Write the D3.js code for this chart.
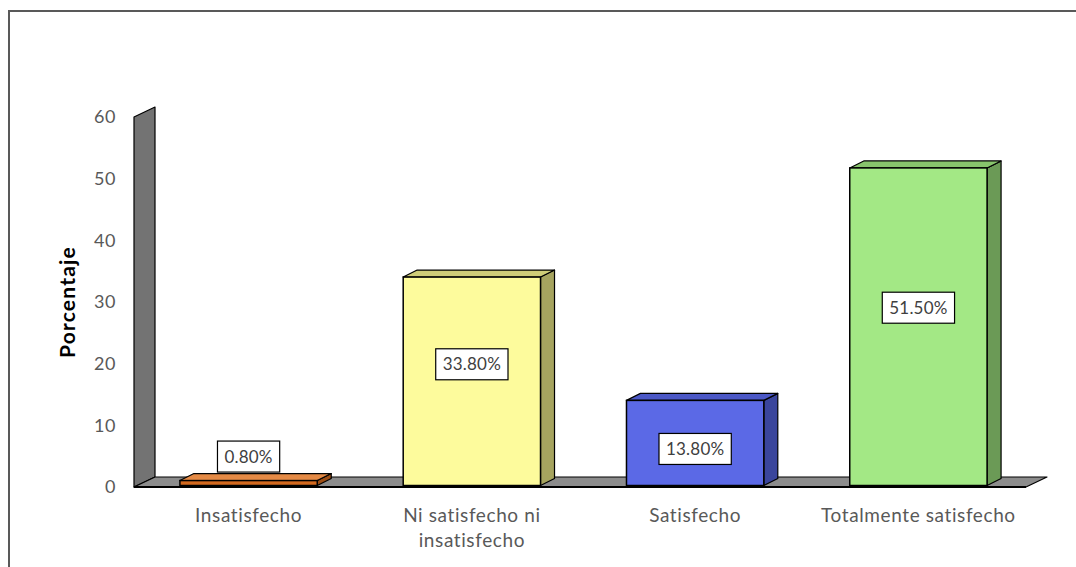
<!DOCTYPE html>
<html>
<head>
<meta charset="utf-8">
<script src="https://cdn.jsdelivr.net/npm/d3@7"></script>
<style>
  html, body { margin: 0; padding: 0; background: #fff; }
  svg { display: block; }
  text { font-family: Lato, "Open Sans", sans-serif; }
</style>
</head>
<body>
<svg id="chart" width="1076" height="567"></svg>
<script>
// Satisfaction survey results (percentage per answer)
const categories = ["Insatisfecho", "Ni satisfecho ni insatisfecho", "Satisfecho", "Totalmente satisfecho"];
const values = [0.8, 33.8, 13.8, 51.5];
const valueLabels = ["0.80%", "33.80%", "13.80%", "51.50%"];
const yTicks = [0, 10, 20, 30, 40, 50, 60];
const yTitle = "Porcentaje";

// Face colours for each column: front, top, side
const frontColors = ["#d2691f", "#fdfb9c", "#5b69e6", "#a3e885"];
const topColors   = ["#e58a45", "#cfcd78", "#4b58c6", "#88c46c"];
const sideColors  = ["#9c4d14", "#a6a45f", "#3a459c", "#6b9a56"];

// Layout
const W = 1076, H = 567;
const plot = { left: 134, right: 1026, top: 117, bottom: 487 };
const wallDepth = { dx: 21, dy: -10 };   // depth of the floor / side wall
const barDepth = { dx: 14, dy: -7 };     // depth of each column
const barInset = { dx: (wallDepth.dx - barDepth.dx) / 2, dy: (wallDepth.dy - barDepth.dy) / 2 };
// vertical nudges for the value labels (px, relative to front-face middle)
const labelNudge = [null, -17, 6, -19];

const svg = d3.select("#chart");

// Chart frame
svg.append("rect")
  .attr("x", 9).attr("y", 11)
  .attr("width", W + 20).attr("height", H + 20)
  .attr("fill", "none").attr("stroke", "#595959").attr("stroke-width", 2);

const x = d3.scaleBand()
  .domain(categories)
  .range([plot.left, plot.right])
  .paddingInner(0.385)
  .paddingOuter(0.19);

const y = d3.scaleLinear()
  .domain([0, 60])
  .range([plot.bottom, plot.top]);

const poly = pts => pts.map(p => p.join(",")).join(" ");

// Side wall
const wx0 = plot.left, wx1 = plot.left + wallDepth.dx;
svg.append("polygon")
  .attr("points", poly([
    [wx0, y(0)], [wx0, y(60)], [wx1, y(60) + wallDepth.dy], [wx1, y(0) + wallDepth.dy]
  ]))
  .attr("fill", "#737373").attr("stroke", "#000").attr("stroke-width", 1.2)
  .attr("stroke-linejoin", "round");

// Floor
svg.append("polygon")
  .attr("points", poly([
    [plot.left, y(0)], [plot.right, y(0)],
    [plot.right + wallDepth.dx, y(0) + wallDepth.dy], [plot.left + wallDepth.dx, y(0) + wallDepth.dy]
  ]))
  .attr("fill", "#8c8c8c").attr("stroke", "#000").attr("stroke-width", 1.2)
  .attr("stroke-linejoin", "round");
svg.append("line")
  .attr("x1", plot.left).attr("x2", plot.right)
  .attr("y1", y(0)).attr("y2", y(0))
  .attr("stroke", "#000").attr("stroke-width", 2);

// Y axis tick labels
const yAxis = d3.axisLeft(y).tickValues(yTicks).tickSize(0).tickPadding(0);
const gy = svg.append("g").attr("transform", `translate(${plot.left - 18},0)`).call(yAxis);
gy.select(".domain").remove();
gy.selectAll("text")
  .attr("fill", "#595959")
  .style("font-size", "18px")
  .style("letter-spacing", "0.5px")
  .style("font-family", "Lato, sans-serif");

// Y axis title
svg.append("text")
  .attr("transform", `translate(75,302) rotate(-90)`)
  .attr("text-anchor", "middle")
  .attr("font-weight", "bold")
  .attr("font-size", 21)
  .attr("letter-spacing", 1.2)
  .attr("fill", "#000")
  .text(yTitle);

// Columns
const bars = svg.append("g").selectAll("g")
  .data(categories.map((c, i) => ({ c, v: values[i], i })))
  .join("g");

bars.each(function (d) {
  const g = d3.select(this);
  const x0 = x(d.c) + barInset.dx;
  const x1 = x0 + x.bandwidth();
  const yb = y(0) + barInset.dy;
  const yt = y(d.v) + barInset.dy;
  const { dx, dy } = barDepth;
  // side
  g.append("polygon")
    .attr("points", poly([[x1, yt], [x1 + dx, yt + dy], [x1 + dx, yb + dy], [x1, yb]]))
    .attr("fill", sideColors[d.i]).attr("stroke", "#000").attr("stroke-width", 1.2)
    .attr("stroke-linejoin", "round");
  // top
  g.append("polygon")
    .attr("points", poly([[x0, yt], [x1, yt], [x1 + dx, yt + dy], [x0 + dx, yt + dy]]))
    .attr("fill", topColors[d.i]).attr("stroke", "#000").attr("stroke-width", 1.2)
    .attr("stroke-linejoin", "round");
  // front
  g.append("rect")
    .attr("x", x0).attr("y", yt)
    .attr("width", x1 - x0).attr("height", yb - yt)
    .attr("fill", frontColors[d.i]).attr("stroke", "#000").attr("stroke-width", 1.5);
});

// Value labels
const labels = svg.append("g").selectAll("g")
  .data(categories.map((c, i) => ({ c, v: values[i], i, t: valueLabels[i] })))
  .join("g")
  .attr("transform", d => {
    const cx = x(d.c) + barInset.dx + x.bandwidth() / 2;
    const yb = y(0) + barInset.dy;
    const yt = y(d.v) + barInset.dy;
    const cy = labelNudge[d.i] === null ? yt - 24 : (yt + yb) / 2 + labelNudge[d.i];
    return `translate(${cx},${cy})`;
  });

labels.append("text")
  .attr("text-anchor", "middle")
  .attr("dy", "0.35em")
  .attr("font-size", 17)
  .attr("letter-spacing", 0.2)
  .attr("fill", "#404040")
  .text(d => d.t);

labels.each(function () {
  const g = d3.select(this);
  const bb = g.select("text").node().getBBox();
  g.insert("rect", "text")
    .attr("x", bb.x - 7).attr("y", -15.5)
    .attr("width", bb.width + 14).attr("height", 31)
    .attr("fill", "#fff").attr("stroke", "#000").attr("stroke-width", 1.2);
});

// Category labels (wrapped)
const catG = svg.append("g");
const catLines = [["Insatisfecho"], ["Ni satisfecho ni", "insatisfecho"], ["Satisfecho"], ["Totalmente satisfecho"]];
categories.forEach((c, i) => {
  const cx = x(c) + x.bandwidth() / 2 + barInset.dx;
  const t = catG.append("text")
    .attr("text-anchor", "middle")
    .attr("font-size", 19)
    .attr("letter-spacing", 0.6)
    .attr("fill", "#595959");
  catLines[i].forEach((line, k) => {
    t.append("tspan").attr("x", cx).attr("y", 522 + k * 25).text(line);
  });
});
</script>
</body>
</html>
